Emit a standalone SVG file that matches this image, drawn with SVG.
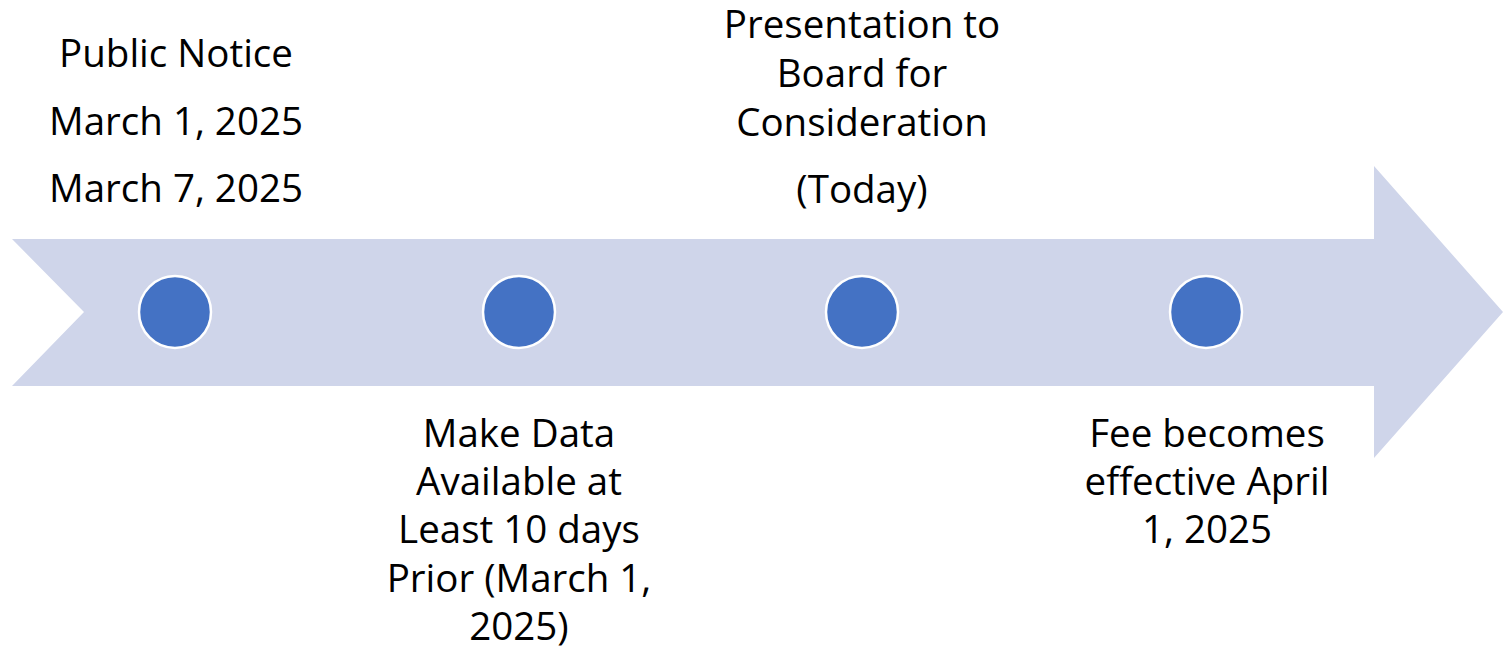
<svg xmlns="http://www.w3.org/2000/svg" width="1503" height="649" viewBox="0 0 1503 649">
<style>
.lbl{font-family:"Open Sans","Liberation Sans",Arial,sans-serif;font-size:38.5px;fill:#000;text-anchor:middle}
.dot{fill:#4472C4;stroke:#FFFFFF;stroke-width:2.5}
</style>
<rect width="1503" height="649" fill="#FFFFFF"/>
<g id="timeline-arrow">
<polygon points="12,239 1374,239 1374,166 1503,312 1374,458 1374,386 12,386 84,312" fill="#CFD5EA"/>
</g>
<g id="connectors"></g>
<g id="node-public-notice">
<circle class="dot" cx="175" cy="312" r="36"/>
<text class="lbl" x="176" y="67">Public Notice</text>
<text class="lbl" x="176" y="135">March 1, 2025</text>
<text class="lbl" x="176" y="202">March 7, 2025</text>
</g>
<g id="node-make-data">
<circle class="dot" cx="519" cy="312" r="36"/>
<text class="lbl" x="519" y="447">Make Data</text>
<text class="lbl" x="519" y="495">Available at</text>
<text class="lbl" x="519" y="543">Least 10 days</text>
<text class="lbl" x="519" y="592">Prior (March 1,</text>
<text class="lbl" x="519" y="640">2025)</text>
</g>
<g id="node-presentation">
<circle class="dot" cx="862" cy="312" r="36"/>
<text class="lbl" x="862" y="38">Presentation to</text>
<text class="lbl" x="862" y="87">Board for</text>
<text class="lbl" x="862" y="136">Consideration</text>
<text class="lbl" x="862" y="203">(Today)</text>
</g>
<g id="node-fee">
<circle class="dot" cx="1206" cy="312" r="36"/>
<text class="lbl" x="1207" y="447">Fee becomes</text>
<text class="lbl" x="1207" y="495">effective April</text>
<text class="lbl" x="1207" y="543">1, 2025</text>
</g>
</svg>
